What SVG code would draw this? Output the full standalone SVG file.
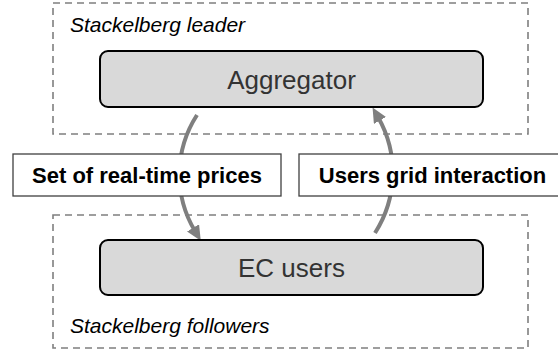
<svg xmlns="http://www.w3.org/2000/svg" width="558" height="356" viewBox="0 0 558 356">
<style>
.zone{fill:none;stroke:#7f7f7f;stroke-width:1.6;stroke-dasharray:7 5}
.node{fill:#d9d9d9;stroke:#000;stroke-width:2}
.ntext{font-family:"Liberation Sans",Arial,sans-serif;font-size:26px;fill:#333;text-anchor:middle}
.ztext{font-family:"Liberation Sans",Arial,sans-serif;font-size:21px;font-style:italic;fill:#000}
.lbox{fill:#fff;stroke:#404040;stroke-width:1.3}
.ltext{font-family:"Liberation Sans",Arial,sans-serif;font-size:22px;font-weight:bold;fill:#000;text-anchor:middle}
.conn{fill:none;stroke:#7f7f7f;stroke-width:4}
</style>
<defs>
<marker id="ah" markerUnits="userSpaceOnUse" markerWidth="16" markerHeight="14" refX="4" refY="7" orient="auto">
<path d="M0,0 L15,7 L0,14 z" fill="#7f7f7f"/>
</marker>
</defs>
<g id="leader-zone">
<rect class="zone" x="53" y="3" width="475" height="131"/>
<text class="ztext" x="70" y="32">Stackelberg leader</text>
</g>
<g id="follower-zone">
<rect class="zone" x="53" y="215" width="475" height="133"/>
<text class="ztext" x="70" y="333">Stackelberg followers</text>
</g>
<g id="connectors">
<path class="conn" d="M197,115 A110 110 0 0 0 195.1,231.3" marker-end="url(#ah)"/>
<path class="conn" d="M375,233 A112 112 0 0 0 378,117" marker-end="url(#ah)"/>
</g>
<g id="aggregator">
<rect class="node" x="100" y="51" width="383" height="56" rx="8"/>
<text class="ntext" x="291.5" y="89">Aggregator</text>
</g>
<g id="ec-users">
<rect class="node" x="100" y="240" width="383" height="55" rx="8"/>
<text class="ntext" x="291.5" y="277">EC users</text>
</g>
<g id="label-prices">
<rect class="lbox" x="13" y="154" width="268" height="42"/>
<text class="ltext" x="147" y="183">Set of real-time prices</text>
</g>
<g id="label-interaction">
<rect class="lbox" x="299" y="154" width="270" height="42"/>
<text class="ltext" x="432.5" y="183">Users grid interaction</text>
</g>
</svg>
